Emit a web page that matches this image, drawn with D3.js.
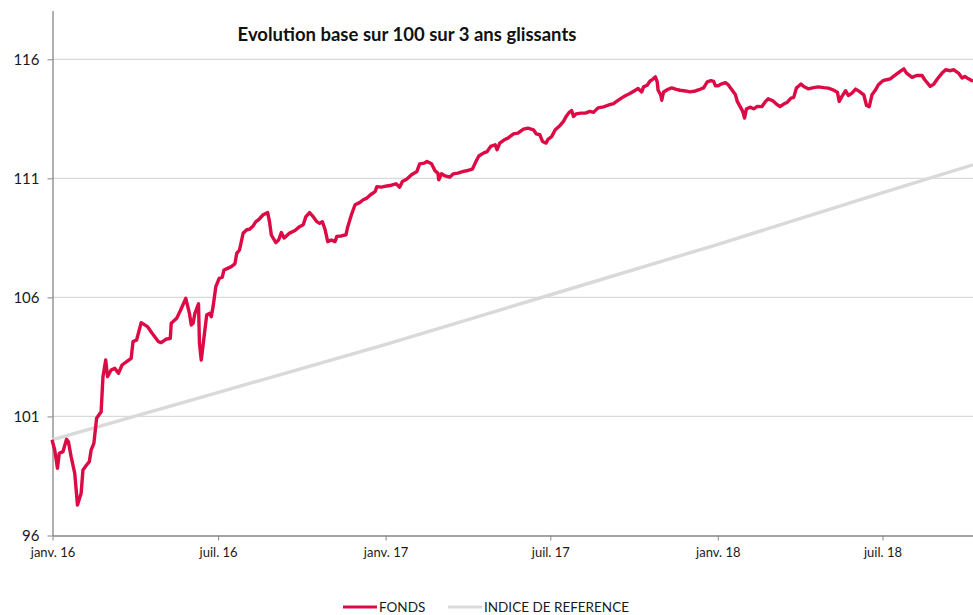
<!DOCTYPE html>
<html>
<head>
<meta charset="utf-8">
<script src="https://cdn.jsdelivr.net/npm/d3@7"></script>
<style>
  html, body { margin: 0; padding: 0; background: #fff; }
  svg { display: block; font-family: Lato, "Open Sans", "Liberation Sans", sans-serif; }
</style>
</head>
<body>
<svg id="chart" width="973" height="615"></svg>
<script>
// ---------- DATA ----------
const chartTitle = "Evolution base sur 100 sur 3 ans glissants";
const seriesNames = ["FONDS", "INDICE DE REFERENCE"];

const yTickValues = [96, 101, 106, 111, 116];
const xTickDates = ["2016-01-01", "2016-07-01", "2017-01-01", "2017-07-01", "2018-01-01", "2018-07-01"];
const xTickLabels = ["janv. 16", "juil. 16", "janv. 17", "juil. 17", "janv. 18", "juil. 18"];

const fondsDates = [
  "2016-01-01","2016-01-04","2016-01-07","2016-01-09","2016-01-13","2016-01-17","2016-01-19","2016-01-22","2016-01-26","2016-01-29",
  "2016-02-02","2016-02-04","2016-02-08","2016-02-11","2016-02-13","2016-02-16","2016-02-19","2016-02-24","2016-02-26","2016-02-29",
  "2016-03-02","2016-03-06","2016-03-10","2016-03-14","2016-03-18","2016-03-23","2016-03-28","2016-03-30","2016-04-03","2016-04-08",
  "2016-04-15","2016-04-20","2016-04-27","2016-04-30","2016-05-05","2016-05-10","2016-05-11","2016-05-17","2016-05-21","2016-05-27",
  "2016-05-31","2016-06-02","2016-06-04","2016-06-06","2016-06-10","2016-06-11","2016-06-13","2016-06-17","2016-06-19","2016-06-22",
  "2016-06-24","2016-06-26","2016-06-29","2016-07-02","2016-07-03","2016-07-06","2016-07-08","2016-07-12","2016-07-16","2016-07-20",
  "2016-07-22","2016-07-25","2016-07-29","2016-08-02","2016-08-05","2016-08-09","2016-08-12","2016-08-15","2016-08-20","2016-08-25",
  "2016-08-27","2016-08-29","2016-09-03","2016-09-06","2016-09-09","2016-09-12","2016-09-14","2016-09-18","2016-09-24","2016-09-29",
  "2016-10-03","2016-10-06","2016-10-10","2016-10-14","2016-10-18","2016-10-21","2016-10-24","2016-10-27","2016-10-30","2016-11-03",
  "2016-11-07","2016-11-09","2016-11-14","2016-11-19","2016-11-21","2016-11-25","2016-11-29","2016-12-04","2016-12-08","2016-12-12",
  "2016-12-16","2016-12-21","2016-12-23","2016-12-28","2017-01-03","2017-01-08","2017-01-13","2017-01-17","2017-01-20","2017-01-25",
  "2017-01-30","2017-02-05","2017-02-08","2017-02-13","2017-02-16","2017-02-21","2017-02-25","2017-02-28","2017-03-01","2017-03-04",
  "2017-03-08","2017-03-13","2017-03-17","2017-03-22","2017-03-28","2017-04-02","2017-04-07","2017-04-10","2017-04-14","2017-04-19",
  "2017-04-23","2017-04-27","2017-05-02","2017-05-04","2017-05-07","2017-05-12","2017-05-16","2017-05-22","2017-05-27","2017-06-02",
  "2017-06-07","2017-06-13","2017-06-16","2017-06-20","2017-06-23","2017-06-27","2017-06-29","2017-07-03","2017-07-07","2017-07-12",
  "2017-07-16","2017-07-19","2017-07-22","2017-07-25","2017-07-27","2017-07-30","2017-08-04","2017-08-09","2017-08-14","2017-08-18",
  "2017-08-23","2017-08-29","2017-09-03","2017-09-09","2017-09-12","2017-09-18","2017-09-23","2017-09-27","2017-10-03","2017-10-06",
  "2017-10-10","2017-10-12","2017-10-16","2017-10-19","2017-10-22","2017-10-25","2017-10-27","2017-10-28","2017-10-31","2017-11-01",
  "2017-11-03","2017-11-08","2017-11-12","2017-11-17","2017-11-21","2017-11-27","2017-12-02","2017-12-08","2017-12-13","2017-12-17",
  "2017-12-21","2017-12-25","2017-12-28","2017-12-30","2018-01-02","2018-01-06","2018-01-10","2018-01-13","2018-01-17","2018-01-21",
  "2018-01-23","2018-01-26","2018-01-29","2018-01-31","2018-02-02","2018-02-06","2018-02-10","2018-02-14","2018-02-19","2018-02-23",
  "2018-02-26","2018-03-03","2018-03-07","2018-03-11","2018-03-15","2018-03-19","2018-03-23","2018-03-26","2018-03-29","2018-04-03",
  "2018-04-06","2018-04-11","2018-04-17","2018-04-22","2018-04-28","2018-05-03","2018-05-08","2018-05-13","2018-05-15","2018-05-18",
  "2018-05-22","2018-05-25","2018-05-29","2018-06-02","2018-06-06","2018-06-11","2018-06-14","2018-06-17","2018-06-20","2018-06-24",
  "2018-06-27","2018-07-02","2018-07-06","2018-07-10","2018-07-15","2018-07-21","2018-07-25","2018-07-28","2018-08-03","2018-08-08",
  "2018-08-14","2018-08-17","2018-08-23","2018-08-27","2018-08-31","2018-09-05","2018-09-09","2018-09-14","2018-09-18","2018-09-23",
  "2018-09-27","2018-09-30","2018-10-04","2018-10-08","2018-10-09"
];
const fondsValues = [
  100.00, 99.57, 98.80, 99.43, 99.50, 100.02, 99.92, 99.29, 98.59, 97.26,
  97.75, 98.73, 98.94, 99.08, 99.57, 99.85, 100.90, 101.18, 102.65, 103.35,
  102.65, 102.93, 103.00, 102.79, 103.14, 103.28, 103.42, 104.12, 104.19, 104.92,
  104.75, 104.47, 104.12, 104.08, 104.22, 104.26, 104.89, 105.10, 105.42, 105.94,
  105.31, 104.82, 104.89, 105.31, 105.71, 104.05, 103.35, 104.61, 105.24, 105.31,
  105.17, 105.59, 106.43, 106.71, 106.79, 106.82, 107.13, 107.20, 107.27, 107.39,
  107.83, 107.97, 108.67, 108.82, 108.84, 108.98, 109.16, 109.24, 109.45, 109.54,
  109.16, 108.60, 108.28, 108.39, 108.70, 108.47, 108.54, 108.68, 108.79, 108.95,
  109.03, 109.37, 109.54, 109.37, 109.16, 109.09, 109.16, 108.84, 108.32, 108.39,
  108.32, 108.54, 108.56, 108.61, 108.95, 109.45, 109.87, 109.96, 110.08, 110.15,
  110.29, 110.42, 110.63, 110.61, 110.66, 110.69, 110.75, 110.61, 110.85, 110.95,
  111.13, 111.27, 111.59, 111.62, 111.69, 111.59, 111.29, 111.20, 110.92, 111.17,
  111.08, 111.03, 111.17, 111.20, 111.27, 111.31, 111.37, 111.62, 111.92, 112.04,
  112.10, 112.32, 112.39, 112.18, 112.46, 112.60, 112.67, 112.85, 112.88, 113.05,
  113.09, 113.02, 112.85, 112.81, 112.53, 112.46, 112.62, 112.73, 113.02, 113.19,
  113.37, 113.58, 113.74, 113.83, 113.58, 113.69, 113.72, 113.72, 113.79, 113.75,
  113.94, 113.98, 114.05, 114.12, 114.20, 114.36, 114.47, 114.54, 114.68, 114.75,
  114.61, 114.82, 114.89, 115.06, 115.14, 115.24, 115.03, 114.68, 114.47, 114.26,
  114.61, 114.72, 114.78, 114.72, 114.68, 114.65, 114.61, 114.65, 114.72, 114.78,
  115.03, 115.08, 115.05, 114.87, 114.87, 114.95, 115.00, 114.91, 114.70, 114.49,
  114.21, 114.00, 113.79, 113.51, 113.89, 113.97, 113.90, 114.00, 113.99, 114.21,
  114.32, 114.24, 114.10, 113.99, 114.10, 114.18, 114.35, 114.38, 114.77, 114.94,
  114.84, 114.74, 114.79, 114.82, 114.79, 114.77, 114.70, 114.60, 114.21, 114.42,
  114.66, 114.46, 114.56, 114.73, 114.63, 114.49, 114.04, 113.99, 114.49, 114.70,
  114.91, 115.08, 115.12, 115.16, 115.30, 115.47, 115.58, 115.40, 115.22, 115.30,
  115.30, 115.12, 114.84, 114.94, 115.16, 115.40, 115.54, 115.50, 115.54, 115.40,
  115.19, 115.26, 115.16, 115.08, 115.05
];

const indiceDates = ["2016-01-01", "2016-07-01", "2017-01-01", "2017-07-01", "2018-01-01", "2018-07-01", "2018-10-09"];
const indiceValues = [100.00, 101.98, 104.00, 106.08, 108.20, 110.37, 111.55];

const domainStart = "2016-01-01";
const domainEnd = "2018-10-09";

// ---------- CHART ----------
const parse = d3.timeParse("%Y-%m-%d");
const svg = d3.select("#chart");

const x = d3.scaleTime().domain([parse(domainStart), parse(domainEnd)]).range([52, 973]);
const y = d3.scaleLinear().domain([96, 118.05]).range([535, 10]);

// gridlines
svg.append("g")
  .selectAll("line")
  .data(yTickValues.filter(v => v !== 96))
  .join("line")
  .attr("x1", 52).attr("x2", 973)
  .attr("y1", d => y(d) + 0.5).attr("y2", d => y(d) + 0.5)
  .attr("stroke", "#d9d9d9").attr("stroke-width", 1.3);

// y axis
const yAxis = svg.append("g")
  .attr("transform", "translate(52.5,0.5)")
  .call(d3.axisLeft(y).tickValues(yTickValues).tickFormat(d3.format("d")).tickSize(5).tickSizeOuter(0).tickPadding(8));
yAxis.select(".domain").attr("stroke", "#868686").attr("stroke-width", 1.3);
yAxis.selectAll(".tick line").attr("stroke", "#868686");
yAxis.selectAll(".tick text").attr("font-size", 15).attr("fill", "#1a1a1a").attr("font-family", "Lato, sans-serif");

// x axis
const xAxis = svg.append("g")
  .attr("transform", "translate(0.5,535.5)")
  .call(d3.axisBottom(x).tickValues(xTickDates.map(parse)).tickFormat((d, i) => xTickLabels[i]).tickSize(5).tickSizeOuter(0).tickPadding(7));
xAxis.select(".domain").attr("stroke", "#868686").attr("stroke-width", 1.3);
xAxis.selectAll(".tick line").attr("stroke", "#868686");
xAxis.selectAll(".tick text").attr("font-size", 13).attr("fill", "#1a1a1a").attr("font-family", "Lato, sans-serif");

// lines
const line = d3.line().x(d => x(d.date)).y(d => y(d.value));

const indiceData = indiceDates.map((d, i) => ({ date: parse(d), value: indiceValues[i] }));
const fondsData = fondsDates.map((d, i) => ({ date: parse(d), value: fondsValues[i] }));

svg.append("path").datum(indiceData)
  .attr("d", line)
  .attr("fill", "none").attr("stroke", "#d9d9d9").attr("stroke-width", 3.4);

svg.append("path").datum(fondsData)
  .attr("d", line)
  .attr("fill", "none").attr("stroke", "#dc0a45").attr("stroke-width", 3.4)
  .attr("stroke-linejoin", "round");

// title
svg.append("text")
  .attr("x", 407).attr("y", 41)
  .attr("text-anchor", "middle")
  .attr("font-size", 18.5).attr("font-weight", "bold").attr("fill", "#111")
  .text(chartTitle);

// legend
const legendColors = ["#dc0a45", "#d9d9d9"];
const legendX = [343, 448];
const lg = svg.append("g");
seriesNames.forEach((name, i) => {
  lg.append("line")
    .attr("x1", legendX[i]).attr("x2", legendX[i] + 34)
    .attr("y1", 607).attr("y2", 607)
    .attr("stroke", legendColors[i]).attr("stroke-width", 3.2);
  lg.append("text")
    .attr("x", legendX[i] + 36).attr("y", 612)
    .attr("font-size", 13.5).attr("fill", "#1a1a1a")
    .text(name);
});
</script>
</body>
</html>
